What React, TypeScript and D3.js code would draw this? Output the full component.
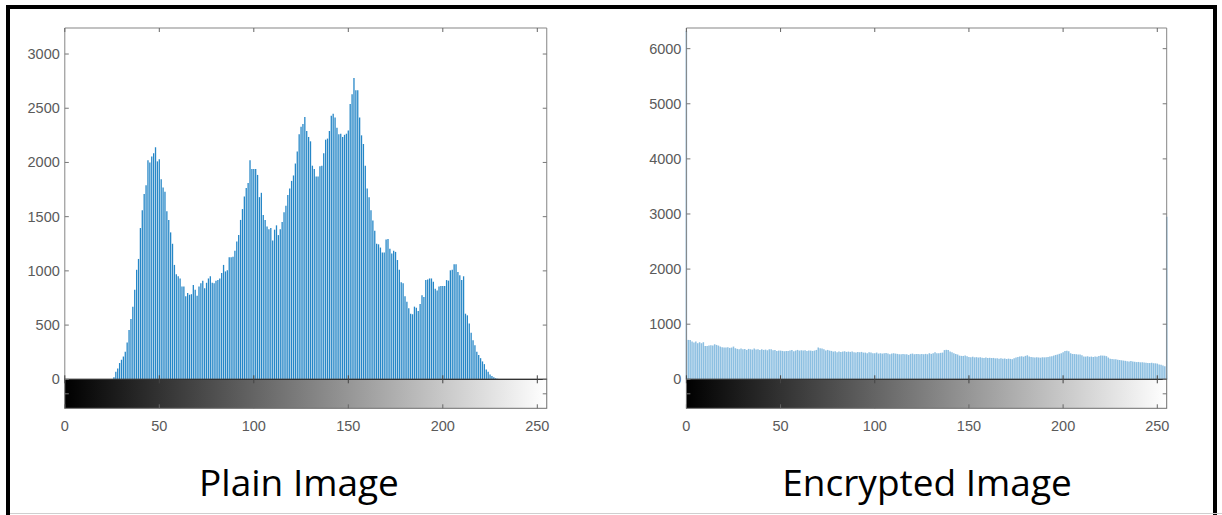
import React from 'react';
import * as d3 from 'd3';

// histogram counts, one per grey level 0..255
const plainCounts: number[] = [
  0, 0, 0, 0, 0, 0, 0, 0, 0, 0, 0, 0, 0, 0, 0, 0, 0, 0, 0, 0, 0, 0, 0, 0, 0, 0,
  20, 70, 100, 150, 180, 210, 255, 340, 455, 555, 670, 825, 1010, 1110, 1395, 1560, 1710, 1790,
  2020, 2000, 2055, 2085, 2140, 2010, 2030, 1845, 1770, 1730, 1550, 1470, 1355, 1250, 1055, 970,
  950, 930, 855, 855, 765, 795, 780, 785, 870, 825, 770, 855, 885, 910, 840, 890, 930, 950,
  890, 885, 910, 915, 930, 980, 1055, 995, 1005, 1125, 1125, 1130, 1185, 1270, 1330, 1470,
  1570, 1685, 1765, 1810, 2020, 1940, 1940, 1940, 1885, 1680, 1720, 1515, 1470, 1410, 1385,
  1395, 1280, 1380, 1420, 1330, 1385, 1450, 1540, 1600, 1700, 1760, 1830, 1880, 1990, 2100,
  2260, 2330, 2355, 2420, 2290, 2235, 2195, 1970, 1940, 1870, 1870, 1965, 1970, 2085, 2210,
  2220, 2290, 2430, 2450, 2415, 2320, 2260, 2265, 2235, 2255, 2265, 2295, 2540, 2630, 2780,
  2665, 2665, 2415, 2250, 2170, 1970, 1760, 1680, 1560, 1465, 1370, 1250, 1245, 1215, 1170,
  1170, 1290, 1295, 1205, 1160, 1185, 1175, 1100, 1010, 895, 885, 765, 715, 655, 605, 600,
  670, 660, 630, 695, 775, 760, 915, 920, 930, 930, 900, 835, 820, 855, 860, 860, 860, 915,
  910, 1005, 1010, 1060, 1060, 990, 960, 915, 950, 605, 590, 515, 430, 360, 315, 255, 225,
  195, 165, 140, 90, 70, 45, 30, 18, 9, 5,
  0, 0, 0, 0, 0, 0, 0, 0, 0, 0, 0, 0, 0, 0, 0, 0, 0, 0, 0, 0, 0, 0, 0, 0, 0, 0,
];

const encryptedCounts: number[] = [
  6320, 715, 715, 685, 667, 685, 655, 673, 655, 673, 606, 606, 612, 618, 612, 636, 624, 612,
  594, 582, 576, 576, 582, 570, 576, 594, 564, 552, 545, 558, 545, 552, 533, 552, 545, 539,
  558, 539, 545, 533, 545, 533, 539, 527, 545, 545, 527, 533, 515, 521, 521, 515, 509, 515,
  515, 521, 533, 509, 521, 533, 521, 527, 521, 527, 515, 521, 521, 515, 521, 533, 576, 564,
  558, 545, 521, 533, 521, 515, 503, 509, 491, 503, 497, 503, 509, 497, 503, 497, 503, 491,
  485, 497, 491, 497, 485, 485, 473, 491, 485, 473, 473, 485, 467, 473, 467, 473, 479, 467,
  455, 467, 473, 467, 461, 455, 455, 461, 455, 455, 442, 461, 467, 455, 461, 461, 455, 461,
  455, 461, 455, 473, 461, 473, 491, 473, 473, 480, 485, 530, 535, 530, 505, 490, 473, 460,
  450, 430, 425, 424, 430, 420, 405, 400, 410, 398, 402, 395, 400, 392, 388, 395, 385, 390,
  386, 388, 380, 382, 375, 380, 372, 378, 368, 375, 370, 365, 382, 395, 405, 412, 418, 410,
  425, 436, 415, 405, 398, 394, 400, 396, 392, 400, 398, 402, 405, 412, 420, 430, 442, 450,
  462, 473, 490, 515, 520, 510, 473, 460, 458, 455, 450, 452, 435, 415, 412, 418, 408, 412,
  405, 415, 410, 425, 432, 430, 428, 420, 395, 372, 368, 362, 365, 355, 350, 345, 340, 335,
  328, 325, 330, 322, 318, 312, 315, 308, 310, 305, 300, 298, 295, 300, 292, 290, 285, 268,
  262, 250, 235, 2950,
];

const xTicks = [0, 50, 100, 150, 200, 250];
const plainYTicks = [0, 500, 1000, 1500, 2000, 2500, 3000];
const encryptedYTicks = [0, 1000, 2000, 3000, 4000, 5000, 6000];
const titles = ['Plain Image', 'Encrypted Image'];

const W = 1222;
const H = 515;
const yTop = 28;
const yZero = 379.3;
const cbBottom = 408.3;
const tick = 4;
const stemColor = '#0072BD';
const labelFont = '"Liberation Sans", Arial, Helvetica, sans-serif';

type HistProps = {
  id: string;
  x0: number;
  x1: number;
  counts: number[];
  yMax: number;
  yTicks: number[];
  title: string;
  titleX: number;
  stemWidth: number;
  stemOpacity: number;
};

const Histogram = ({
  id, x0, x1, counts, yMax, yTicks, title, titleX, stemWidth, stemOpacity,
}: HistProps) => {
  const x = d3.scaleLinear().domain([0, 255]).range([x0, x1]);
  const y = d3.scaleLinear().domain([0, yMax]).range([yZero, yTop]);
  const cbMid = (yZero + cbBottom) / 2;

  return (
    <g>
      <defs>
        <linearGradient id={id} x1="0" x2="1" y1="0" y2="0">
          <stop offset="0" stopColor="#000" />
          <stop offset="1" stopColor="#fff" />
        </linearGradient>
      </defs>

      {/* stems */}
      <g stroke={stemColor} strokeWidth={stemWidth} strokeOpacity={stemOpacity}>
        {counts.map((c, i) =>
          c > 0 ? (
            <line key={i} x1={x(i)} x2={x(i)} y1={yZero} y2={y(Math.min(c, yMax))} />
          ) : null
        )}
      </g>

      {/* axes box: left, top, right */}
      <path
        d={`M${x0},${yZero}V${yTop}H${x1}V${yZero}`}
        fill="none"
        stroke="#858585"
        strokeWidth={1}
      />

      {/* colour bar */}
      <rect
        x={x0}
        y={yZero}
        width={x1 - x0}
        height={cbBottom - yZero}
        fill={`url(#${id})`}
        stroke="#6e6e6e"
        strokeWidth={1}
      />
      <line x1={x0} x2={x1} y1={yZero} y2={yZero} stroke="#333" strokeWidth={1.2} />
      <line x1={x0} x2={x0 + tick} y1={cbMid} y2={cbMid} stroke="#777" />
      <line x1={x1 - tick} x2={x1} y1={cbMid} y2={cbMid} stroke="#777" />

      {/* x ticks */}
      {xTicks.map((t) => (
        <g key={t}>
          <line x1={x(t)} x2={x(t)} y1={yTop} y2={yTop + tick} stroke="#666" />
          <line x1={x(t)} x2={x(t)} y1={yZero - tick} y2={yZero + tick} stroke="#444" />
          <line x1={x(t)} x2={x(t)} y1={cbBottom - tick} y2={cbBottom} stroke="#666" />
          <text
            x={x(t)}
            y={430.5}
            textAnchor="middle"
            fontFamily={labelFont}
            fontSize={14.5}
            fill="#5a5a5a"
          >
            {t}
          </text>
        </g>
      ))}

      {/* y ticks */}
      {yTicks.map((t) => (
        <g key={t}>
          <line x1={x0} x2={x0 + tick} y1={y(t)} y2={y(t)} stroke="#777" />
          <line x1={x1 - tick} x2={x1} y1={y(t)} y2={y(t)} stroke="#777" />
          <text
            x={x0 - 5}
            y={y(t) + 5}
            textAnchor="end"
            fontFamily={labelFont}
            fontSize={14.5}
            fill="#5a5a5a"
          >
            {t}
          </text>
        </g>
      ))}

      <text
        x={titleX}
        y={496}
        textAnchor="middle"
        fontFamily='"Open Sans", "Noto Sans", sans-serif'
        fontSize={37}
        fill="#000"
      >
        {title}
      </text>
    </g>
  );
};

const App = () => {
  return (
    <svg
      width={W}
      height={H}
      style={{ position: 'fixed', left: 0, top: 0, background: '#fff' }}
    >
      <rect x={0} y={0} width={W} height={H} fill="#fff" />
      <Histogram
        id="cbPlain"
        x0={64.8}
        x1={546.75}
        counts={plainCounts}
        yMax={3240}
        yTicks={plainYTicks}
        title={titles[0]}
        titleX={299}
        stemWidth={1.3}
        stemOpacity={0.85}
      />
      <Histogram
        id="cbEnc"
        x0={686.4}
        x1={1166.7}
        counts={encryptedCounts}
        yMax={6375}
        yTicks={encryptedYTicks}
        title={titles[1]}
        titleX={927}
        stemWidth={1.5}
        stemOpacity={0.45}
      />
      {/* outer frame, bottom edge falls outside the picture */}
      <rect x={8} y={7} width={1207} height={530} fill="none" stroke="#000" strokeWidth={4} />
      <line x1={10} x2={W} y1={513.5} y2={513.5} stroke="#cfcfcf" strokeWidth={1} />
    </svg>
  );
};

export default App;
